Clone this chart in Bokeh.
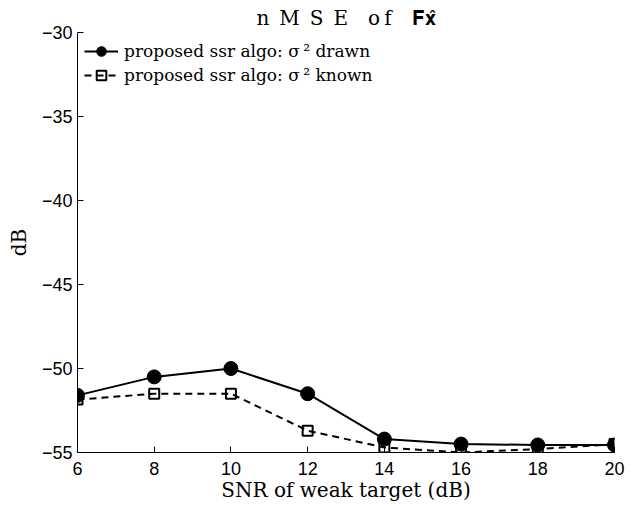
from bokeh.plotting import figure
from bokeh.embed import file_html
from bokeh.resources import INLINE
from bokeh.models import FixedTicker, Range1d, Legend, LegendItem

snr = [6, 8, 10, 12, 14, 16, 18, 20]
nmse_drawn = [-51.6, -50.5, -50.0, -51.5, -54.2, -54.5, -54.55, -54.55]
nmse_known = [-51.85, -51.5, -51.5, -53.7, -54.7, -55.0, -54.8, -54.5]
x_ticks = [6, 8, 10, 12, 14, 16, 18, 20]
y_ticks = [-55, -50, -45, -40, -35, -30]
legend_labels = ["proposed ssr algo: σ\u2009² drawn", "proposed ssr algo: σ\u2009² known"]
title_text = "n\u2002M\u2002S\u2002E\u2003o\u2009f\u2003\U0001D405\U0001D431\u0302"

p = figure(width=641, height=508, output_backend="svg", toolbar_location=None,
           x_range=Range1d(6, 20), y_range=Range1d(-55, -30))
p.min_border_left = 77
p.min_border_right = 27
p.min_border_top = 32
p.min_border_bottom = 56
p.outline_line_color = None
p.grid.visible = False
p.background_fill_color = "white"

p.title.text = title_text
p.title.align = "center"
p.title.vertical_align = "top"
p.title.offset = 14
p.title.standoff = 2
p.title.text_font = "DejaVu Serif"
p.title.text_font_size = "20px"
p.title.text_font_style = "normal"
p.title.text_color = "black"

for ax in (p.xaxis[0], p.yaxis[0]):
    ax.major_tick_in = 6
    ax.major_tick_out = 0
    ax.minor_tick_in = 0
    ax.minor_tick_out = 0
    ax.axis_line_color = "black"
    ax.major_tick_line_color = "black"
    ax.major_label_text_font = "Liberation Sans"
    ax.major_label_text_font_size = "18px"
    ax.major_label_text_color = "black"
    ax.axis_label_text_font = "DejaVu Serif"
    ax.axis_label_text_font_style = "normal"
    ax.axis_label_text_font_size = "20px"
    ax.axis_label_text_color = "black"

p.xaxis.ticker = FixedTicker(ticks=x_ticks)
p.yaxis.ticker = FixedTicker(ticks=y_ticks)
p.yaxis.major_label_overrides = {t: "\u2212" + str(abs(t)) for t in y_ticks}
p.xaxis.axis_label = "SNR of weak target (dB)"
p.yaxis.axis_label = "dB"
p.xaxis.major_label_standoff = 9
p.xaxis.axis_label_standoff = 0
p.yaxis.major_label_standoff = 5
p.yaxis.axis_label_standoff = 8

l1 = p.line(snr, nmse_drawn, line_color="black", line_width=2)
m1 = p.scatter(snr, nmse_drawn, marker="circle", size=14, fill_color="black", line_color="black")
l2 = p.line(snr, nmse_known, line_color="black", line_width=2, line_dash="7 5")
m2 = p.scatter(snr, nmse_known, marker="square", size=10, fill_color=None, line_color="black", line_width=2)

legend = Legend(items=[LegendItem(label=legend_labels[0], renderers=[l1, m1]),
                       LegendItem(label=legend_labels[1], renderers=[l2, m2])],
                location="top_left")
legend.label_text_font = "DejaVu Serif"
legend.label_text_font_size = "17px"
legend.label_text_color = "black"
legend.border_line_alpha = 0
legend.background_fill_alpha = 0
legend.glyph_width = 34
legend.glyph_height = 24
legend.label_height = 21
legend.spacing = 0
legend.padding = 2
legend.margin = 5
legend.label_standoff = 6
p.add_layout(legend)

open("out.html", "w").write(file_html(p, INLINE))
